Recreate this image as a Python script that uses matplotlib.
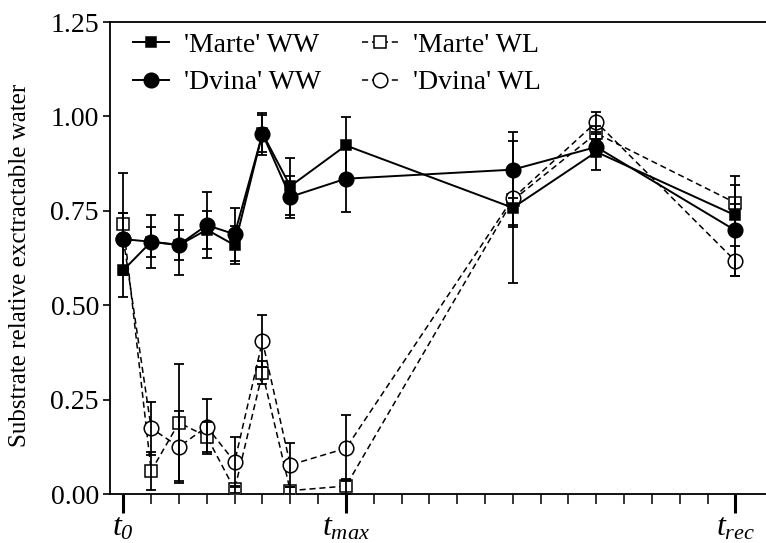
import matplotlib.pyplot as plt
from matplotlib.ticker import FixedLocator, FormatStrFormatter

plt.rcParams['font.family'] = 'Liberation Serif'
plt.rcParams['mathtext.fontset'] = 'custom'
plt.rcParams['mathtext.rm'] = 'Liberation Serif:italic'
plt.rcParams['mathtext.it'] = 'Liberation Serif:italic'

# sampling days (t0 = 0, tmax = 8, trec = 22)
days = [0, 1, 2, 3, 4, 5, 6, 8, 14, 17, 22]

marte_ww = [0.593, 0.668, 0.659, 0.700, 0.659, 0.955, 0.815, 0.923, 0.758, 0.906, 0.738]
dvina_ww = [0.675, 0.668, 0.660, 0.712, 0.688, 0.954, 0.787, 0.835, 0.859, 0.919, 0.698]
marte_wl = [0.715, 0.061, 0.189, 0.152, 0.012, 0.321, 0.009, 0.021, 0.778, 0.955, 0.771]
dvina_wl = [0.675, 0.174, 0.125, 0.178, 0.085, 0.405, 0.077, 0.121, 0.783, 0.985, 0.617]

marte_ww_err = [0.070, 0.040, 0.040, 0.050, 0.050, 0.050, 0.075, 0.075, 0.200, 0.048, 0.030]
dvina_ww_err = [0.070, 0.070, 0.080, 0.088, 0.070, 0.056, 0.055, 0.087, 0.075, 0.020, 0.120]
marte_wl_err = [0.135, 0.050, 0.155, 0.040, 0.010, 0.030, 0.010, 0.020, 0.070, 0.020, 0.070]
dvina_wl_err = [0.070, 0.070, 0.095, 0.073, 0.067, 0.068, 0.058, 0.087, 0.070, 0.027, 0.040]

xtick_pos = [0, 8, 22]
xtick_labels = [r'$t_{0}$', r'$t_{max}$', r'$t_{rec}$']

fig = plt.figure(figsize=(7.66, 5.43), dpi=100)
ax = fig.add_axes([110 / 766, 49 / 543, 656 / 766, 472 / 543])

series = [
    (marte_ww, marte_ww_err, "'Marte' WW", 's', 'black', '-', 7.5, 4),
    (dvina_ww, dvina_ww_err, "'Dvina' WW", 'o', 'black', '-', 10.5, 4),
    (marte_wl, marte_wl_err, "'Marte' WL", 's', 'white', '--', 8, 3),
    (dvina_wl, dvina_wl_err, "'Dvina' WL", 'o', 'white', '--', 10.5, 3),
]

handles = []
for vals, err, label, marker, face, ls, ms, z in series:
    ax.errorbar(days, vals, yerr=err, fmt='none', ecolor='black',
                elinewidth=1.3, capsize=3.5, capthick=1.3, zorder=z + 1)
    line, = ax.plot(days, vals, marker=marker, markersize=ms,
                    markerfacecolor=face, markeredgecolor='black',
                    markeredgewidth=1.1, color='black', linestyle=ls,
                    linewidth=1.4 if ls == '-' else 1.1,
                    dashes=(4, 2.5) if ls == '--' else (None, None),
                    label=label, zorder=z)
    handles.append(line)

ax.set_xlim(-0.48, 23.1)
ax.set_ylim(0, 1.25)
ax.set_yticks([0, 0.25, 0.5, 0.75, 1.0, 1.25])
ax.yaxis.set_major_formatter(FormatStrFormatter('%.2f'))
ax.set_xticks(xtick_pos)
ax.set_xticklabels(xtick_labels, fontsize=23)
ax.xaxis.set_minor_locator(FixedLocator(range(0, 23)))
ax.tick_params(axis='x', which='major', length=14, width=2.2, pad=0)
ax.tick_params(axis='x', which='minor', length=7, width=1.1)
ax.tick_params(axis='y', length=5, width=1.2, labelsize=20, pad=3)

for side in ['left', 'bottom', 'top']:
    ax.spines[side].set_linewidth(1.3)
ax.spines['right'].set_visible(False)

ax.set_ylabel('Substrate relative exctractable water', fontsize=18)
ax.yaxis.set_label_coords(-0.12, 0.485)

ax.legend(handles=handles, ncol=2, frameon=False, loc='upper left',
          bbox_to_anchor=(0.035, 0.978), borderaxespad=0, borderpad=0,
          fontsize=20, handlelength=1.3, columnspacing=1.45,
          labelspacing=0.44, handletextpad=0.55)

fig.savefig('out.png', dpi=100)
